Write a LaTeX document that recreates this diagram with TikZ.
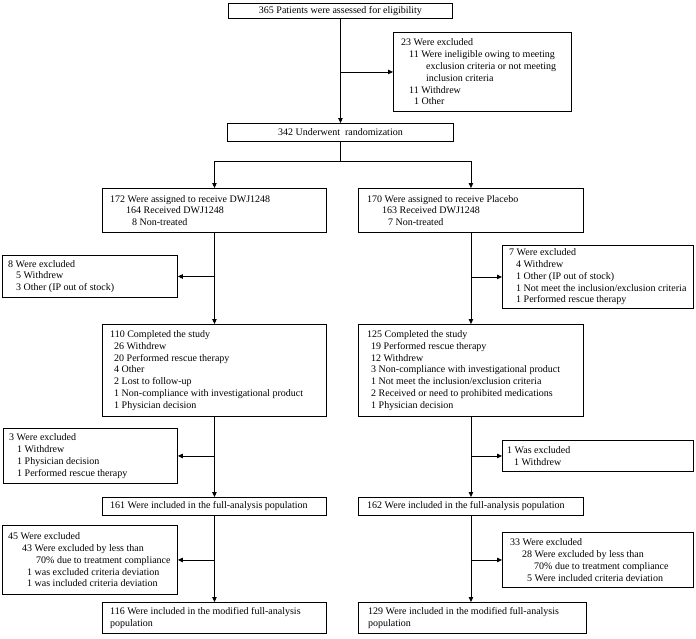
\documentclass[tikz,border=0pt]{standalone}
\usepackage{fontspec}
\setmainfont{Liberation Serif}
\usetikzlibrary{arrows.meta,calc}
\newcommand\bxfont{\fontsize{10}{11.8}\selectfont}
\newcommand\ind[1]{\hspace*{#1pt}}
\newcommand\ph{\phantom{1}}
\tikzset{
  frame/.style={draw=black, line width=0.9pt, anchor=north west, inner sep=0pt},
  txt/.style={anchor=west, align=left, inner sep=0pt, font=\bxfont},
  ctxt/.style={align=center, inner sep=0pt, font=\bxfont},
  ln/.style={draw=black, line width=0.9pt},
  arr/.style={ln, -{Triangle[length=5pt,width=4.5pt]}}
}
% name, x, y, w, h, pad, text  (left aligned text)
\newcommand\mkbox[7]{%
  \node[frame, minimum width=#4pt, minimum height=#5pt] (#1) at (#2,#3) {};
  \node[txt] (#1-t) at ($(#1.west)+(#6,0)$) {#7};}
% name, x, y, w, h, text (centred text)
\newcommand\mkcbox[6]{%
  \node[frame, minimum width=#4pt, minimum height=#5pt] (#1) at (#2,#3) {};
  \node[ctxt] (#1-t) at (#1.center) {#6};}
\begin{document}
\begin{tikzpicture}[x=1pt,y=-1pt]
\useasboundingbox (0,0) rectangle (696,638);
\fill[white] (0,0) rectangle (696,638);

\mkcbox{B365}{228}{3}{224}{15}{365 Patients were assessed for eligibility}
\mkbox{E23}{393}{32}{178}{79}{8}{23 Were excluded\\
\ind{8}11 Were ineligible owing to meeting\\
\ind{25}exclusion criteria or not meeting\\
\ind{25}inclusion criteria\\
\ind{8}11 Withdrew\\
\ind{8}\ph1 Other}
\mkcbox{B342}{227}{123}{226}{18}{342 Underwent~ randomization}

\mkbox{B172}{102}{188}{224}{44}{8}{172 Were assigned to receive DWJ1248\\
\ind{16}164 Received DWJ1248\\
\ind{22}8 Non-treated}
\mkbox{B170}{358}{188}{225}{44}{9}{170 Were assigned to receive Placebo\\
\ind{15}163 Received DWJ1248\\
\ind{21}7 Non-treated}

\mkbox{E8}{2}{255}{175}{42}{6}{8 Were excluded\\
\ind{8}5 Withdrew\\
\ind{8}3 Other (IP out of stock)}
\mkbox{E7}{502}{245}{191}{63}{7}{7 Were excluded\\
\ind{7}4 Withdrew\\
\ind{7}1 Other (IP out of stock)\\
\ind{7}1 Not meet the inclusion/exclusion criteria\\
\ind{7}1 Performed rescue therapy}

\mkbox{B110}{102}{324}{224}{92}{8}{110 Completed the study\\
\ind{4}26 Withdrew\\
\ind{4}20 Performed rescue therapy\\
\ind{4}4 Other\\
\ind{4}2 Lost to follow-up\\
\ind{4}1 Non-compliance with investigational product\\
\ind{4}1 Physician decision}
\mkbox{B125}{358}{324}{225}{92}{9}{125 Completed the study\\
\ind{4}19 Performed rescue therapy\\
\ind{4}12 Withdrew\\
\ind{4}3 Non-compliance with investigational product\\
\ind{4}1 Not meet the inclusion/exclusion criteria\\
\ind{4}2 Received or need to prohibited medications\\
\ind{4}1 Physician decision}

\mkbox{E3}{3}{428}{174}{55}{6}{3 Were excluded\\
\ind{8}1 Withdrew\\
\ind{8}1 Physician decision\\
\ind{8}1 Performed rescue therapy}
\mkbox{E1}{502}{440}{191}{31}{5}{1 Was excluded\\
\ind{7}1 Withdrew}

\mkbox{B161}{102}{497}{224}{18}{8}{161 Were included in the full-analysis population}
\mkbox{B162}{358}{497}{225}{18}{9}{162 Were included in the full-analysis population}

\mkbox{E45}{2}{525}{175}{69}{6}{45 Were excluded\\
\ind{14}43 Were excluded by less than\\
\ind{28}70\% due to treatment compliance\\
\ind{14}\ph1 was excluded criteria deviation\\
\ind{14}\ph1 was included criteria deviation}
\mkbox{E33}{502}{532}{191}{55}{8}{33 Were excluded\\
\ind{12}28 Were excluded by less than\\
\ind{24}70\% due to treatment compliance\\
\ind{12}\ph5 Were included criteria deviation}

\mkbox{B116}{102}{602}{224}{31}{8}{116 Were included in the modified full-analysis\\population}
\mkbox{B129}{358}{602}{228}{31}{10}{129 Were included in the modified full-analysis\\population}

% connectors
\draw[arr] (B365.south) -- (B342.north);
\coordinate (c0) at (B365.south |- E23.west);
\draw[arr] (c0) -- (E23.west);
\coordinate (sp) at ($(B342.south)+(0,20)$);
\draw[ln] (B342.south) -- (sp);
\draw[arr] (sp) -| (B172.north);
\draw[arr] (sp) -| (B170.north);

\draw[arr] (B172.south) -- (B110.north);
\coordinate (c1) at (B172.south |- E8.east);
\draw[arr] (c1) -- (E8.east);
\draw[arr] (B170.south) -- (B125.north);
\coordinate (c2) at (B170.south |- E7.west);
\draw[arr] (c2) -- (E7.west);

\draw[arr] (B110.south) -- (B161.north);
\coordinate (c3) at (B110.south |- E3.east);
\draw[arr] (c3) -- (E3.east);
\draw[arr] (B125.south) -- (B162.north);
\coordinate (c4) at (B125.south |- E1.west);
\draw[arr] (c4) -- (E1.west);

\draw[arr] (B161.south) -- (B116.north);
\coordinate (c5) at (B161.south |- E45.east);
\draw[arr] (c5) -- (E45.east);
\coordinate (c7) at (B162.south |- B129.north);
\draw[arr] (B162.south) -- (c7);
\coordinate (c6) at (B162.south |- E33.west);
\draw[arr] (c6) -- (E33.west);
\end{tikzpicture}
\end{document}
